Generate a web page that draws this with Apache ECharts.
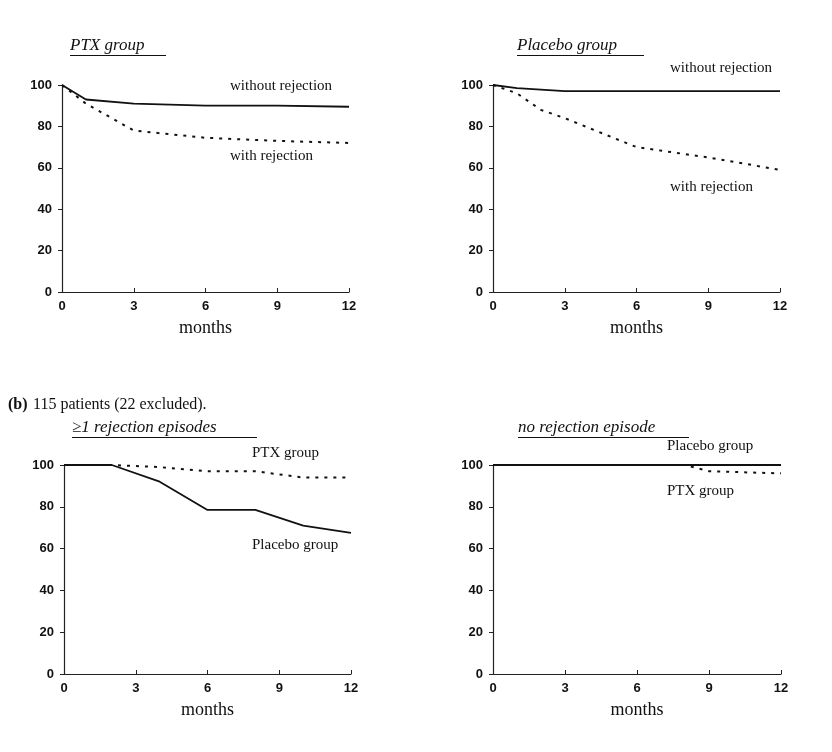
<!DOCTYPE html>
<html><head><meta charset="utf-8">
<script src="https://cdn.jsdelivr.net/npm/echarts@6/dist/echarts.min.js"></script>
<style>body{margin:0;background:#fff}#c{width:832px;height:752px}</style>
</head><body><div id="c"></div>
<script>
// survival curves, x in months, y in %
var ptxWithout = [[0,100],[1,93],[3,91],[6,90],[9,90],[12,89.5]];
var ptxWith = [[0,100],[1,91],[3,78],[6,74.5],[9,73],[12,72]];
var plaWithout = [[0,100],[1,98.5],[3,97],[6,97],[12,97]];
var plaWith = [[0,100],[1,96],[2,88],[3,84],[6,70],[9,65],[12,59]];
var rejPtx = [[0,100],[2,100],[4,99],[6,97],[8,97],[10,94],[12,94]];
var rejPla = [[0,100],[2,100],[4,92],[6,78.5],[8,78.5],[10,71],[12,67.5]];
var noPla = [[0,100],[12,100]];
var noPtx = [[0,100],[8,100],[9,97],[12,96]];

var grids = [
  {left:62, top:85, width:287, height:207},
  {left:493, top:85, width:287, height:207},
  {left:64, top:465, width:287, height:209},
  {left:493, top:465, width:288, height:209}
];
var serif = 'Liberation Serif';
var sans = 'Liberation Sans';

var xAxes = grids.map(function (g, i) {
  return {
    gridIndex: i, type: 'value', min: 0, max: 12, interval: 3,
    name: 'months', nameLocation: 'middle', nameGap: 27,
    nameTextStyle: {fontFamily: serif, fontSize: 18, color: '#111'},
    axisLine: {lineStyle: {color: '#222', width: 1.2}},
    axisTick: {length: 4, inside: true, lineStyle: {color: '#222'}},
    axisLabel: {fontFamily: sans, fontWeight: 'bold', fontSize: 13, color: '#111', margin: 8},
    splitLine: {show: false}
  };
});
var yAxes = grids.map(function (g, i) {
  return {
    gridIndex: i, type: 'value', min: 0, max: 100, interval: 20,
    axisLine: {show: true, lineStyle: {color: '#222', width: 1.2}},
    axisTick: {show: true, length: 4, lineStyle: {color: '#222'}},
    axisLabel: {fontFamily: sans, fontWeight: 'bold', fontSize: 13, color: '#111', margin: 10},
    splitLine: {show: false}
  };
});

function line(data, i, dashed) {
  return {
    type: 'line', xAxisIndex: i, yAxisIndex: i, data: data, symbol: 'none',
    lineStyle: {color: '#111', width: dashed ? 2 : 1.8, type: dashed ? [3, 6] : 'solid'}
  };
}

function txt(x, y, s, opt) {
  return {type: 'text', left: x, top: y, style: Object.assign({
    text: s, fontFamily: serif, fontSize: 15, fill: '#111'}, opt || {})};
}
function title(x, y, s, w) {
  return [
    txt(x, y, s, {fontStyle: 'italic', fontSize: 17}),
    {type: 'rect', left: x, top: y + 18, shape: {width: w, height: 1}, style: {fill: '#111'}}
  ];
}

var graphic = [].concat(
  title(70, 37, 'PTX group', 96),
  title(517, 37, 'Placebo group', 127),
  title(72, 419, '\u22651 rejection episodes', 185),
  title(518, 419, 'no rejection episode', 171),
  [
    txt(230, 79, 'without rejection'),
    txt(230, 149, 'with rejection'),
    txt(670, 61, 'without rejection'),
    txt(670, 180, 'with rejection'),
    txt(252, 446, 'PTX group'),
    txt(252, 538, 'Placebo group'),
    txt(667, 439, 'Placebo group'),
    txt(667, 484, 'PTX group'),
    txt(8, 397, '(b)', {fontWeight: 'bold', fontSize: 16}),
    txt(33, 397, '115 patients (22 excluded).', {fontSize: 16})
  ]
);

var chart = echarts.init(document.getElementById('c'));
chart.setOption({
  animation: false,
  backgroundColor: '#fff',
  grid: grids,
  xAxis: xAxes,
  yAxis: yAxes,
  graphic: graphic,
  series: [
    line(ptxWithout, 0, false), line(ptxWith, 0, true),
    line(plaWithout, 1, false), line(plaWith, 1, true),
    line(rejPtx, 2, true), line(rejPla, 2, false),
    line(noPla, 3, false), line(noPtx, 3, true)
  ]
});
</script></body></html>
